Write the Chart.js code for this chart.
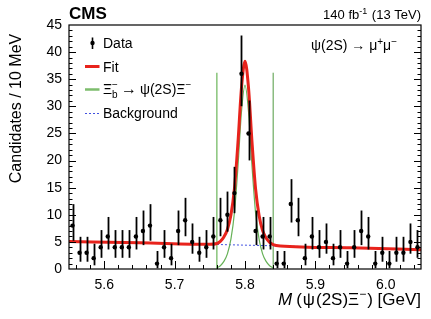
<!DOCTYPE html>
<html>
<head>
<meta charset="utf-8">
<script src="https://cdn.jsdelivr.net/npm/chart.js@4.4.1/dist/chart.umd.min.js"></script>
<style>
  html, body { margin: 0; padding: 0; background: #fff; }
  #wrap { width: 431px; height: 319px; }
</style>
</head>
<body>
<div id="wrap"><canvas id="grafico" width="431" height="319"></canvas></div>
<script>
// Histograma: bins de 10 MeV desde 5.55 GeV
const binLow = 5.55;
const binWidth = 0.01;
const counts = [8, 3, 3, 2, 4, 6, 4, 4, 4, 6,
                7, 8, 1, 4, 2, 7, 9, 5, 3, 4,
                6, 9, 10, 14, 36, 25, 7, 6, 6, 1,
                1, 12, 9, 2, 6, 4, 5, 2, 4, 1,
                4, 7, 6, 1, 3, 1, 3, 3, 5, 4];

// Fondo (linea discontinua azul)
const bkgMass = [5.55, 5.65, 5.75, 5.85, 5.95, 6.05];
const bkgVal  = [5.05, 4.85, 4.55, 4.25, 3.90, 3.55];

// Señal (curva verde)
const sigMass = [5.760, 5.765, 5.770, 5.775, 5.780, 5.785, 5.790, 5.795, 5.800,
                 5.805, 5.810, 5.815, 5.820, 5.825, 5.830, 5.835, 5.840];
const sigVal  = [0.2, 0.6, 1.4, 2.8, 5.5, 10.4, 18.9, 29.0, 33.9,
                 29.0, 18.9, 10.4, 5.5, 2.8, 1.4, 0.6, 0.2];

// Ajuste total (curva roja)
const fitMass = [5.55, 5.65, 5.75, 5.760, 5.765, 5.770, 5.775, 5.780, 5.785, 5.790, 5.795, 5.800,
                 5.805, 5.810, 5.815, 5.820, 5.825, 5.830, 5.835, 5.840, 5.85, 5.95, 6.05];
const fitVal  = [5.05, 4.85, 4.55, 4.7, 5.1, 5.9, 7.3, 9.95, 14.8, 23.3, 33.4, 38.3,
                 33.4, 23.3, 14.8, 9.85, 7.1, 5.7, 4.9, 4.5, 4.25, 3.9, 3.55];

// Ventana de la señal (lineas verticales)
const windowEdges = [5.76, 5.84];
const windowTop = 36.2;

// Marcas de los ejes
const xTickVals = [5.6, 5.7, 5.8, 5.9, 6.0];
const xTickLabels = ['5.6', '5.7', '5.8', '5.9', '6.0'];
const yTickVals = [0, 5, 10, 15, 20, 25, 30, 35, 40, 45];
const yTickLabels = ['0', '5', '10', '15', '20', '25', '30', '35', '40', '45'];

const FONT = "'Liberation Sans', Arial, Helvetica, sans-serif";
Chart.defaults.font.family = FONT;
Chart.defaults.color = '#000';

const RED = '#e8231c';
const GREEN = '#66b157';
const BLUE = '#4150e0';

function pts(xs, ys) {
    return xs.map((x, i) => ({ x: x, y: ys[i] }));
}

// Texto con subindices / superindices
function drawRich(ctx, segs, x, y, align) {
    let total = 0;
    const widths = segs.map(s => {
        ctx.font = (s.bold ? 'bold ' : '') + (s.italic ? 'italic ' : '') + s.size + 'px ' + FONT;
        const w = ctx.measureText(s.t).width;
        if (!s.stack) total += w + (s.gap || 0);
        return w;
    });
    let cx = align === 'right' ? x - total : x;
    ctx.textAlign = 'left';
    ctx.textBaseline = 'alphabetic';
    segs.forEach((s, i) => {
        ctx.font = (s.bold ? 'bold ' : '') + (s.italic ? 'italic ' : '') + s.size + 'px ' + FONT;
        ctx.fillText(s.t, cx, y + (s.dy || 0));
        if (!s.stack) cx += widths[i] + (s.gap || 0);
    });
}

const decoraciones = {
    id: 'decoraciones',
    beforeDatasetDraw(chart, args) {
        // barras de error de los datos (Poisson)
        if (args.index !== 0) return;
        const ctx = chart.ctx, xs = chart.scales.x, ys = chart.scales.y;
        ctx.save();
        ctx.strokeStyle = '#000';
        ctx.lineWidth = 1.8;
        counts.forEach((n, i) => {
            const hi = n + Math.sqrt(n + 0.75) + 1;
            const lo = n > 0 ? n - Math.sqrt(n - 0.25) : 0;
            const px = Math.round(xs.getPixelForValue(binLow + (i + 0.5) * binWidth)) + 0.5;
            ctx.beginPath();
            ctx.moveTo(px, ys.getPixelForValue(Math.min(lo, 45)));
            ctx.lineTo(px, ys.getPixelForValue(Math.min(hi, 45)));
            ctx.stroke();
        });
        ctx.restore();
    },
    afterDraw(chart) {
        const ctx = chart.ctx, a = chart.chartArea;
        const xs = chart.scales.x, ys = chart.scales.y;
        ctx.save();
        // marco
        ctx.strokeStyle = '#000';
        ctx.lineWidth = 1.2;
        ctx.strokeRect(a.left, a.top, a.right - a.left, a.bottom - a.top);
        // marcas hacia dentro
        ctx.lineWidth = 1;
        ctx.beginPath();
        for (let k = 0; k <= 25; k++) {
            const v = 5.55 + 0.01 + k * 0.02;
            if (v > 6.05) break;
            const px = Math.round(xs.getPixelForValue(v)) + 0.5;
            const major = Math.abs(v * 10 - Math.round(v * 10)) < 1e-6;
            ctx.moveTo(px, a.bottom);
            ctx.lineTo(px, a.bottom - (major ? 8 : 4));
        }
        for (let v = 1; v < 45; v++) {
            const py = Math.round(ys.getPixelForValue(v)) + 0.5;
            const len = v % 5 === 0 ? 7 : 3.5;
            ctx.moveTo(a.left, py);
            ctx.lineTo(a.left + len, py);
            ctx.moveTo(a.right, py);
            ctx.lineTo(a.right - len, py);
        }
        ctx.stroke();

        ctx.fillStyle = '#000';
        // CMS y luminosidad
        drawRich(ctx, [{ t: 'CMS', size: 17, bold: true }], a.left, 19, 'left');
        drawRich(ctx, [
            { t: '140 fb', size: 13 },
            { t: '-1', size: 9, dy: -5, gap: 1 },
            { t: ' (13 TeV)', size: 13 }
        ], 421, 19, 'right');
        // canal
        drawRich(ctx, [
            { t: 'ψ(2S) → μ', size: 14 },
            { t: '+', size: 10, dy: -5 },
            { t: 'μ', size: 14 },
            { t: '−', size: 10, dy: -5 }
        ], 311, 50, 'left');

        // leyenda
        // Data
        ctx.strokeStyle = '#000';
        ctx.lineWidth = 1.6;
        ctx.beginPath();
        ctx.moveTo(92.5, 37.5);
        ctx.lineTo(92.5, 49);
        ctx.stroke();
        ctx.beginPath();
        ctx.arc(92.5, 43, 2.2, 0, Math.PI * 2);
        ctx.fill();
        drawRich(ctx, [{ t: 'Data', size: 14 }], 103, 47.5, 'left');
        // Fit
        ctx.strokeStyle = RED;
        ctx.lineWidth = 3;
        ctx.beginPath();
        ctx.moveTo(85, 66.5);
        ctx.lineTo(99.5, 66.5);
        ctx.stroke();
        drawRich(ctx, [{ t: 'Fit', size: 14 }], 103, 71.5, 'left');
        // Señal
        ctx.strokeStyle = '#7dbd6d';
        ctx.lineWidth = 2.5;
        ctx.beginPath();
        ctx.moveTo(85, 89.5);
        ctx.lineTo(99.5, 89.5);
        ctx.stroke();
        drawRich(ctx, [
            { t: 'Ξ', size: 14 },
            { t: 'b', size: 10, dy: 4, stack: true },
            { t: '−', size: 10, dy: -6, gap: 3 },
            { t: '→', size: 16, gap: 3 },
            { t: 'ψ(2S)Ξ', size: 14 },
            { t: '−', size: 10, dy: -6 }
        ], 103, 93.5, 'left');
        // Fondo
        ctx.strokeStyle = BLUE;
        ctx.lineWidth = 1;
        ctx.setLineDash([2, 2]);
        ctx.beginPath();
        ctx.moveTo(85, 113.5);
        ctx.lineTo(100, 113.5);
        ctx.stroke();
        ctx.setLineDash([]);
        drawRich(ctx, [{ t: 'Background', size: 14 }], 103, 117.5, 'left');

        // titulo eje x
        drawRich(ctx, [
            { t: 'M', size: 17, italic: true, gap: 4 },
            { t: '(', size: 17, gap: 1 },
            { t: 'ψ', size: 17, gap: 1 },
            { t: '(2S)Ξ', size: 17 },
            { t: '−', size: 12, dy: -7, gap: 1 },
            { t: ') [GeV]', size: 17 }
        ], 421, 305, 'right');

        // titulo eje y
        ctx.translate(20.7, 108.5);
        ctx.rotate(-Math.PI / 2);
        ctx.font = '16px ' + FONT;
        ctx.textAlign = 'center';
        ctx.textBaseline = 'alphabetic';
        ctx.fillText('Candidates / 10 MeV', 0, 0);
        ctx.restore();
    }
};

new Chart(document.getElementById('grafico'), {
    type: 'scatter',
    data: {
        datasets: [
            {
                label: 'Data',
                data: counts.map((n, i) => ({ x: binLow + (i + 0.5) * binWidth, y: n })),
                showLine: false,
                pointRadius: 2.2,
                pointBackgroundColor: '#000',
                pointBorderWidth: 0
            },
            {
                label: 'Fit',
                data: pts(fitMass, fitVal),
                showLine: true,
                borderColor: RED,
                borderWidth: 3,
                pointRadius: 0,
                cubicInterpolationMode: 'monotone'
            },
            {
                label: 'Signal',
                data: pts(sigMass, sigVal),
                showLine: true,
                borderColor: GREEN,
                borderWidth: 1.2,
                pointRadius: 0,
                cubicInterpolationMode: 'monotone'
            },
            {
                label: 'Background',
                data: pts(bkgMass, bkgVal),
                showLine: true,
                borderColor: BLUE,
                borderWidth: 1,
                borderDash: [2, 2],
                pointRadius: 0
            },
            {
                label: 'ventana baja',
                data: [{ x: windowEdges[0], y: 0 }, { x: windowEdges[0], y: windowTop }],
                showLine: true,
                borderColor: '#88c47a',
                borderWidth: 1.5,
                pointRadius: 0
            },
            {
                label: 'ventana alta',
                data: [{ x: windowEdges[1], y: 0 }, { x: windowEdges[1], y: windowTop }],
                showLine: true,
                borderColor: '#4f9a40',
                borderWidth: 1,
                pointRadius: 0
            }
        ]
    },
    options: {
        responsive: false,
        animation: false,
        devicePixelRatio: 1,
        layout: { padding: { top: 25, right: 10, left: 0, bottom: 0 } },
        plugins: {
            legend: { display: false },
            tooltip: { enabled: false }
        },
        scales: {
            x: {
                type: 'linear',
                min: 5.55,
                max: 6.05,
                grid: { display: false, drawTicks: false },
                border: { display: false },
                afterBuildTicks: s => { s.ticks = xTickVals.map(v => ({ value: v })); },
                afterFit: s => { s.height = 50; },
                ticks: {
                    padding: 8,
                    maxRotation: 0,
                    autoSkip: false,
                    font: { size: 14 },
                    color: '#000',
                    callback: v => {
                        const i = xTickVals.findIndex(t => Math.abs(t - v) < 1e-6);
                        return i >= 0 ? xTickLabels[i] : '';
                    }
                }
            },
            y: {
                min: 0,
                max: 45,
                grid: { display: false, drawTicks: false },
                border: { display: false },
                afterBuildTicks: s => { s.ticks = yTickVals.map(v => ({ value: v })); },
                afterFit: s => { s.width = 69; },
                ticks: {
                    padding: 7,
                    autoSkip: false,
                    font: { size: 14 },
                    color: '#000',
                    callback: v => {
                        const i = yTickVals.indexOf(v);
                        return i >= 0 ? yTickLabels[i] : '';
                    }
                }
            }
        }
    },
    plugins: [decoraciones]
});
</script>
</body>
</html>
